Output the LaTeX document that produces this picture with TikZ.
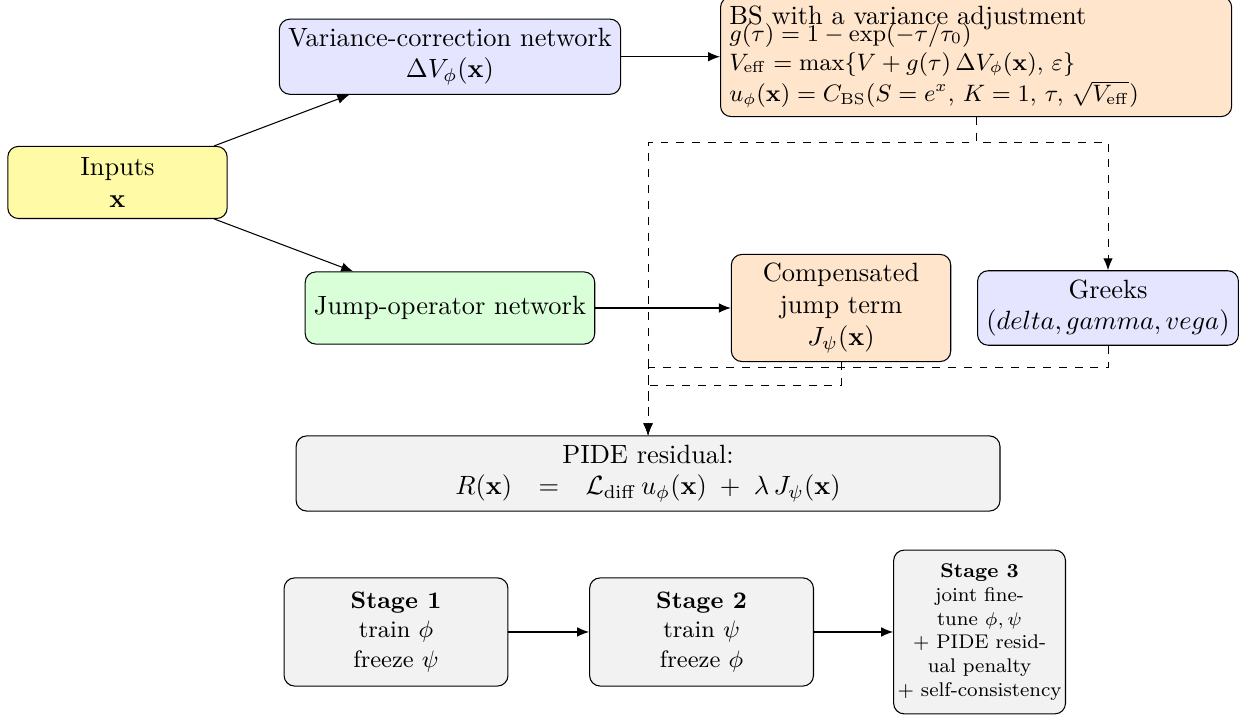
\documentclass[tikz,border=0pt]{standalone}
\usetikzlibrary{arrows.meta}
\begin{document}
\begin{tikzpicture}[
   caja/.style={draw, rounded corners=4pt, align=center},
   flecha/.style={-{Latex[length=4.5pt,width=3.6pt]}},
   rayas/.style={dashed, -{Latex[length=4.5pt,width=3.6pt]}},
   etapa/.style={caja, fill=gray!10, font=\small, minimum width=2.98cm, minimum height=1.44cm}]
   \useasboundingbox (0,0) rectangle (16.68,9.545);
   %nodos
   \node[caja, fill=yellow!35, minimum width=2.92cm, minimum height=0.96cm] (inputs) at (1.564,7.116) {Inputs\\ $\mathbf{x}$};
   \node[caja, fill=blue!10, minimum height=0.96cm] (varnet) at (5.99,8.79) {Variance-correction network\\ $\Delta V_\phi(\mathbf{x})$};
   \node[caja, fill=green!15, minimum height=0.96cm] (jumpnet) at (5.99,5.445) {Jump-operator network};
   \node[caja, fill=orange!20, text width=6.57cm, align=left] (bs) at (12.994,8.79) {BS with a variance adjustment\\[-4.6pt]
      \small $g(\tau) = 1-\exp(-\tau/\tau_0)$\\
      $V_{\mathrm{eff}} = \max\{V + g(\tau)\,\Delta V_\phi(\mathbf{x}),\, \varepsilon\}$\\
      $u_\phi(\mathbf{x}) = C_{\mathrm{BS}}(S=e^x,\, K=1,\, \tau,\, \sqrt{V_{\mathrm{eff}}})$};
   \node[caja, fill=orange!20, minimum width=2.92cm] (comp) at (11.196,5.445) {Compensated\\ jump term\\ $J_\psi(\mathbf{x})$};
   \node[caja, fill=blue!10] (greeks) at (14.75,5.445) {Greeks\\ $(delta, gamma, vega)$};
   \node[caja, fill=gray!10, minimum width=9.37cm] (pide) at (8.627,3.242) {PIDE residual:\\ $R(\mathbf{x})\quad{=}\quad \mathcal{L}_{\mathrm{diff}}\,u_\phi(\mathbf{x}) \;+\; \lambda\,J_\psi(\mathbf{x})$};
   %etapas
   \node[etapa] (stage1) at (5.272,1.132) {\textbf{Stage 1}\\ train $\phi$\\ freeze $\psi$};
   \node[etapa] (stage2) at (9.339,1.132) {\textbf{Stage 2}\\ train $\psi$\\ freeze $\phi$};
   \node[caja, fill=gray!10, font=\fontsize{7.5}{9}\selectfont, inner sep=1.5pt, minimum width=2.22cm, minimum height=2.18cm] (stage3) at (13.04,1.132)
      {\textbf{Stage 3}\\ joint fine-\\ tune $\phi,\psi$\\ + PIDE resid-\\ ual penalty\\ + self-consistency};
   %flechas
   \draw[flecha] (inputs) -- (varnet);
   \draw[flecha] (inputs) -- (jumpnet);
   \draw[flecha] (varnet) -- (bs);
   \draw[flecha] (jumpnet) -- (comp);
   \draw[rayas] (bs.south) -- ++(0,-0.333) -| (pide.north);
   \draw[rayas] (bs.south) -- ++(0,-0.333) -| (greeks.north);
   \draw[rayas] (comp.south) -- ++(0,-0.306) -| (pide.north);
   \draw[rayas] (greeks.south) -- ++(0,-0.293) -| (pide.north);
   \draw[flecha] (stage1) -- (stage2);
   \draw[flecha] (stage2) -- (stage3);
\end{tikzpicture}
\end{document}
